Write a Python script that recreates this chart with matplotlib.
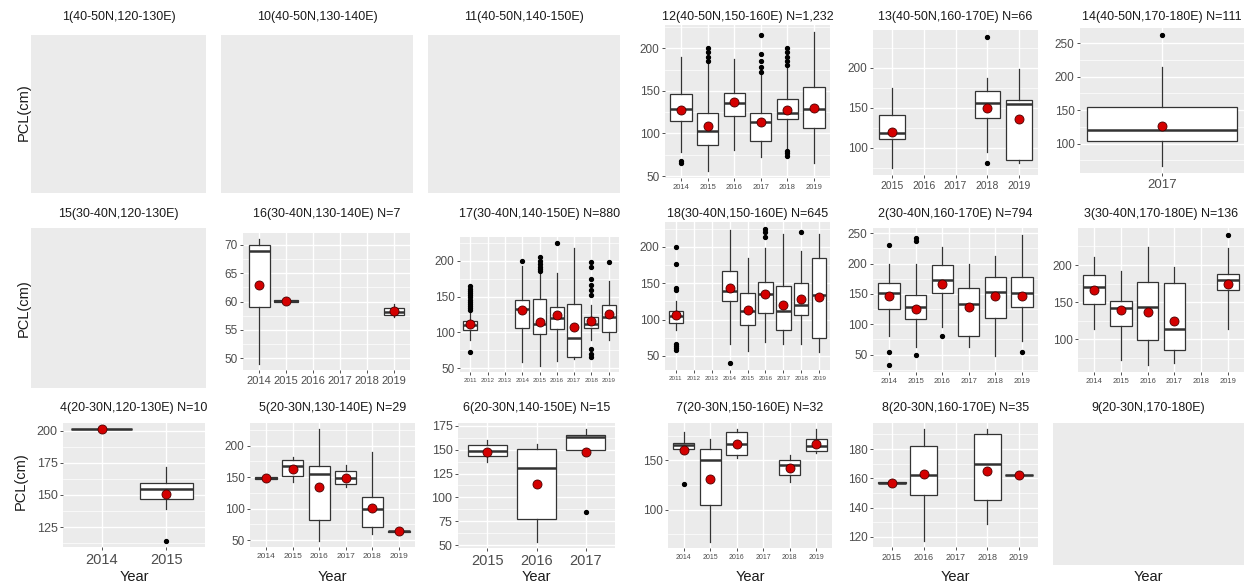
import matplotlib.pyplot as plt
from matplotlib.ticker import MultipleLocator

plt.rcParams['font.family'] = ['Liberation Sans', 'DejaVu Sans']

# box rows are: lower whisker, Q1, median, Q3, upper whisker (None = no data that year)
p12_years = ["2014", "2015", "2016", "2017", "2018", "2019"]
p12_box = [[78, 115, 129, 146, 190], [56, 87, 103, 124, 181], [81, 121, 136, 148, 187],
           [73, 91, 113, 124, 169], [83, 117, 124, 141, 177], [66, 106, 129, 155, 219]]
p12_mean = [127, 109, 137, 114, 127, 130]
p12_out = [[65, 68], [185, 190, 195, 200], [], [172, 178, 185, 193, 215],
           [74, 77, 80, 180, 185, 190, 195, 200], []]

p13_years = ["2015", "2016", "2017", "2018", "2019"]
p13_box = [[74, 111, 118, 141, 175], None, None, [94, 137, 156, 171, 187], [81, 84, 155, 160, 198]]
p13_mean = [120, None, None, 149, 136]
p13_out = [[], [], [], [81, 239], []]

p14_years = ["2017"]
p14_box = [[66, 104, 120, 155, 214]]
p14_mean = [127]
p14_out = [[263]]

p16_years = ["2014", "2015", "2016", "2017", "2018", "2019"]
p16_box = [[49, 59, 69, 70, 71], [60, 60, 60.1, 60.2, 60.2], None, None, None, [57.2, 57.6, 58.1, 58.8, 59.6]]
p16_mean = [63, 60.1, None, None, None, 58.3]
p16_out = [[], [], [], [], [], []]

p17_years = ["2011", "2012", "2013", "2014", "2015", "2016", "2017", "2018", "2019"]
p17_box = [[89, 103, 110, 116, 128], None, None, [58, 106, 133, 145, 193], [53, 98, 111, 147, 183],
           [60, 105, 120, 136, 183], [62, 66, 92, 140, 218], [89, 106, 111, 122, 138], [89, 101, 121, 138, 172]]
p17_mean = [111, None, None, 131, 115, 124, 107, 116, 125]
p17_out = [[72, 131, 134, 137, 140, 143, 146, 149, 152, 155, 158, 161, 165], [], [], [200],
           [186, 189, 192, 196, 200, 205], [225], [], [65, 70, 76, 152, 160, 167, 175, 191, 198], [198]]

p18_years = ["2011", "2012", "2013", "2014", "2015", "2016", "2017", "2018", "2019"]
p18_box = [[86, 96, 105, 112, 125], None, None, [67, 125, 139, 167, 223], [57, 93, 112, 137, 185],
           [69, 109, 135, 152, 199], [67, 86, 112, 146, 218], [67, 106, 120, 151, 194], [55, 75, 134, 185, 218]]
p18_mean = [107, None, None, 144, 113, 135, 120, 128, 131]
p18_out = [[58, 61, 64, 67, 141, 144, 177, 200], [], [], [40], [], [214, 220, 225], [], [221], []]

p2_years = ["2014", "2015", "2016", "2017", "2018", "2019"]
p2_box = [[80, 125, 151, 168, 200], [63, 109, 128, 149, 200], [95, 151, 173, 198, 228],
          [63, 80, 133, 160, 200], [47, 111, 154, 178, 212], [72, 129, 152, 178, 248]]
p2_mean = [146, 125, 166, 129, 146, 146]
p2_out = [[32, 55, 230], [50, 238, 242], [80], [], [], [55]]

p3_years = ["2014", "2015", "2016", "2017", "2018", "2019"]
p3_box = [[114, 148, 171, 186, 211], [73, 118, 142, 151, 192], [65, 99, 144, 177, 224],
          [68, 86, 114, 176, 198], None, [114, 167, 180, 188, 223]]
p3_mean = [167, 139, 137, 125, None, 174]
p3_out = [[], [], [], [], [], [241]]

p4_years = ["2014", "2015"]
p4_box = [[201, 201, 201, 201.3, 201.5], [139, 147, 155, 159, 172]]
p4_mean = [201, 150.5]
p4_out = [[], [114]]

p5_years = ["2014", "2015", "2016", "2017", "2018", "2019"]
p5_box = [[146, 147, 148, 150, 151], [142, 152, 168, 177, 182], [48, 82, 155, 168, 227],
          [135, 139, 148, 159, 169], [59, 71, 100, 119, 190], [63, 63.5, 64, 64.5, 65]]
p5_mean = [148, 163, 134, 148, 101, 64]
p5_out = [[], [], [], [], [], []]

p6_years = ["2015", "2016", "2017"]
p6_box = [[137, 143, 149, 155, 160], [53, 77, 131, 151, 156], [150, 150, 163, 165, 172]]
p6_mean = [148, 114, 148]
p6_out = [[], [], [85]]

p7_years = ["2014", "2015", "2016", "2017", "2018", "2019"]
p7_box = [[158, 161, 165, 168, 179], [67, 105, 150, 161, 172], [152, 155, 167, 179, 182], None,
          [128, 135, 145, 150, 155], [157, 159, 164, 172, 182]]
p7_mean = [160, 131, 166, None, 142, 167]
p7_out = [[126], [], [], [], [], []]

p8_years = ["2015", "2016", "2017", "2018", "2019"]
p8_box = [[157, 157, 157.2, 157.4, 157.5], [117, 149, 162, 182, 194], None,
          [129, 145, 170, 190, 194], [162, 162, 162.2, 162.4, 162.5]]
p8_mean = [157, 163, None, 165, 162]
p8_out = [[], [], [], [], []]

W, H = 1244, 584
BG = '#EBEBEB'
EDGE = '#333333'

fig = plt.figure(figsize=(W / 100, H / 100), dpi=100)


def add_axes(rect):
    l, t, r, b = rect
    return fig.add_axes([l / W, 1 - b / H, (r - l) / W, (b - t) / H])


def put_title(rect, title, title_y):
    fig.text((rect[0] + rect[2]) / 2 / W, 1 - title_y / H, title, ha='center', va='center',
             fontsize=9, color='#1A1A1A')


def empty_panel(title, rect, title_y):
    ax = add_axes(rect)
    ax.set_facecolor(BG)
    for s in ax.spines.values():
        s.set_visible(False)
    ax.set_xticks([])
    ax.set_yticks([])
    put_title(rect, title, title_y)
    return ax


def box_panel(title, data, rect, title_y, step, xfs, yfs, width=0.8):
    years, boxes, means, outs = data
    ax = add_axes(rect)
    ax.set_facecolor(BG)
    for s in ax.spines.values():
        s.set_visible(False)

    stats, pos, widths = [], [], []
    for i, bx in enumerate(boxes):
        if bx is None:
            continue
        stats.append(dict(whislo=bx[0], q1=bx[1], med=bx[2], q3=bx[3], whishi=bx[4],
                          mean=means[i], fliers=outs[i]))
        pos.append(i)
        widths.append(width[i] if isinstance(width, list) else width)

    ax.bxp(stats, positions=pos, widths=widths, patch_artist=True, showmeans=True,
           showcaps=False, manage_ticks=False,
           boxprops=dict(facecolor='white', edgecolor=EDGE, linewidth=0.9),
           medianprops=dict(color=EDGE, linewidth=1.8),
           whiskerprops=dict(color=EDGE, linewidth=0.9),
           flierprops=dict(marker='o', markerfacecolor='black', markeredgecolor='black',
                           markersize=2.8, linestyle='none'),
           meanprops=dict(marker='o', markerfacecolor='#D40000', markeredgecolor='#4A0000',
                          markeredgewidth=0.6, markersize=6.5))

    # ggplot-like limits: data range plus 5% on each side
    vals = [v for bx in boxes if bx for v in bx] + [v for o in outs for v in o]
    vals += [m for m in means if m is not None]
    lo, hi = min(vals), max(vals)
    pad = 0.05 * (hi - lo)
    ax.set_ylim(lo - pad, hi + pad)
    ax.set_xlim(-0.6, len(years) - 0.4)

    ax.set_xticks(range(len(years)))
    ax.set_xticklabels(years, fontsize=xfs)
    ax.yaxis.set_major_locator(MultipleLocator(step))
    ax.yaxis.set_minor_locator(MultipleLocator(step / 2))
    ax.grid(True, which='major', color='white', linewidth=1.0)
    ax.grid(True, which='minor', axis='y', color='white', linewidth=0.5)
    ax.set_axisbelow(True)
    ax.tick_params(which='major', length=2.5, width=0.6, color=EDGE, labelcolor='#4D4D4D', pad=1.5)
    ax.tick_params(axis='y', labelsize=yfs)
    ax.tick_params(which='minor', length=0)
    put_title(rect, title, title_y)
    return ax


# row 1
empty_panel("1(40-50N,120-130E)", (31, 35, 206, 193), 17)
empty_panel("10(40-50N,130-140E)", (221, 35, 413, 193), 17)
empty_panel("11(40-50N,140-150E)", (428, 35, 620, 193), 17)
box_panel("12(40-50N,150-160E) N=1,232", (p12_years, p12_box, p12_mean, p12_out),
          (665, 25, 830, 178), 17, 50, 5.5, 8.5)
box_panel("13(40-50N,160-170E) N=66", (p13_years, p13_box, p13_mean, p13_out),
          (873, 30, 1038, 175), 17, 50, 7.5, 8.5)
box_panel("14(40-50N,170-180E) N=111", (p14_years, p14_box, p14_mean, p14_out),
          (1080, 28, 1244, 173), 17, 50, 9.5, 8.5, width=1.1)

# row 2
empty_panel("15(30-40N,120-130E)", (31, 228, 206, 388), 214)
box_panel("16(30-40N,130-140E) N=7", (p16_years, p16_box, p16_mean, p16_out),
          (243, 233, 410, 370), 214, 5, 8, 8.5, width=[0.78, 0.9, 0, 0, 0, 0.76])
box_panel("17(30-40N,140-150E) N=880", (p17_years, p17_box, p17_mean, p17_out),
          (460, 237, 619, 372), 214, 50, 4.5, 8.5)
box_panel("18(30-40N,150-160E) N=645", (p18_years, p18_box, p18_mean, p18_out),
          (665, 222, 830, 370), 214, 50, 4.5, 8.5)
box_panel("2(30-40N,160-170E) N=794", (p2_years, p2_box, p2_mean, p2_out),
          (873, 228, 1038, 372), 214, 50, 5.5, 8.5)
box_panel("3(30-40N,170-180E) N=136", (p3_years, p3_box, p3_mean, p3_out),
          (1078, 228, 1244, 372), 214, 50, 5.5, 8.5)

# row 3
row3 = [(63, 423, 205, 547), (250, 423, 415, 547), (458, 423, 615, 548),
        (668, 423, 832, 548), (873, 423, 1038, 547), (1053, 423, 1244, 565)]
box_panel("4(20-30N,120-130E) N=10", (p4_years, p4_box, p4_mean, p4_out),
          row3[0], 408, 25, 10.5, 9, width=[0.95, 0.82])
box_panel("5(20-30N,130-140E) N=29", (p5_years, p5_box, p5_mean, p5_out),
          row3[1], 408, 50, 6, 8.5)
box_panel("6(20-30N,140-150E) N=15", (p6_years, p6_box, p6_mean, p6_out),
          row3[2], 408, 25, 10.5, 9)
box_panel("7(20-30N,150-160E) N=32", (p7_years, p7_box, p7_mean, p7_out),
          row3[3], 408, 50, 5, 8.5)
box_panel("8(20-30N,160-170E) N=35", (p8_years, p8_box, p8_mean, p8_out),
          row3[4], 408, 20, 6.5, 8.5, width=[0.9, 0.84, 0, 0.84, 0.9])
empty_panel("9(20-30N,170-180E)", row3[5], 408)

for rect in row3:
    fig.text((rect[0] + rect[2]) / 2 / W, 1 - 577 / H, "Year", ha='center', va='center',
             fontsize=10.5, color='#1A1A1A')

for x, y in [(24, 112), (24, 308), (21, 481)]:
    fig.text(x / W, 1 - y / H, "PCL(cm)", rotation=90, ha='center', va='center',
             fontsize=10.5, color='#1A1A1A')

fig.savefig("out.png", dpi=100)
